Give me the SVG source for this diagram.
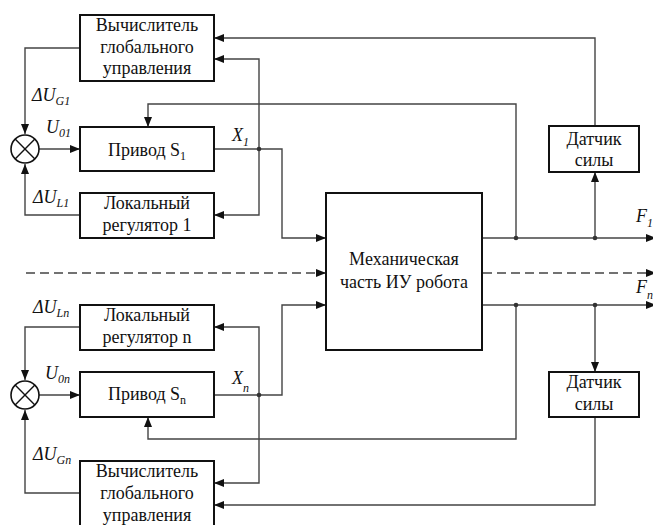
<svg xmlns="http://www.w3.org/2000/svg" width="653" height="525" viewBox="0 0 653 525">
<style>
.box{fill:#fff;stroke:#111;stroke-width:2}
.ln{fill:none;stroke:#444;stroke-width:1.4}
.da{fill:none;stroke:#444;stroke-width:1.4;stroke-dasharray:9,5}
text{font-family:'Liberation Serif','Times New Roman','DejaVu Serif',serif;fill:#111}
.t{font-size:18px;text-anchor:middle}
.lb{font-size:18px;font-style:italic}
.sb{font-size:12px}
.dot{fill:#333}
</style>
<defs>
<marker id="ar" markerWidth="10" markerHeight="8" refX="10" refY="4" orient="auto" markerUnits="userSpaceOnUse">
<path d="M0,0 L10,4 L0,8 z" fill="#111"/>
</marker>
</defs>
<g id="connectors">
<path class="ln" d="M80,48 H25 V134" marker-end="url(#ar)"/>
<path class="ln" d="M80,215 H25 V164" marker-end="url(#ar)"/>
<path class="ln" d="M39,149 H80" marker-end="url(#ar)"/>
<path class="ln" d="M214,149 H282 V238 H326" marker-end="url(#ar)"/>
<path class="ln" d="M259,149 V59 H214" marker-end="url(#ar)"/>
<path class="ln" d="M259,149 V215 H214" marker-end="url(#ar)"/>
<path class="ln" d="M516,238 V104 H148 V127" marker-end="url(#ar)"/>
<path class="ln" d="M595,126 V38 H214" marker-end="url(#ar)"/>
<path class="ln" d="M595,238 V172" marker-end="url(#ar)"/>
<path class="ln" d="M483,238 H656" marker-end="url(#ar)"/>
<path class="da" d="M26,273 H326" marker-end="url(#ar)"/>
<path class="da" d="M483,273 H656" marker-end="url(#ar)"/>
<path class="ln" d="M80,327 H25 V380" marker-end="url(#ar)"/>
<path class="ln" d="M80,493 H25 V410" marker-end="url(#ar)"/>
<path class="ln" d="M39,395 H80" marker-end="url(#ar)"/>
<path class="ln" d="M214,395 H282 V305 H326" marker-end="url(#ar)"/>
<path class="ln" d="M259,395 V327 H214" marker-end="url(#ar)"/>
<path class="ln" d="M259,395 V483 H214" marker-end="url(#ar)"/>
<path class="ln" d="M516,305 V439 H148 V417" marker-end="url(#ar)"/>
<path class="ln" d="M595,417 V505 H214" marker-end="url(#ar)"/>
<path class="ln" d="M595,305 V372" marker-end="url(#ar)"/>
<path class="ln" d="M483,305 H656" marker-end="url(#ar)"/>
<circle class="dot" cx="259" cy="149" r="2.3"/>
<circle class="dot" cx="516" cy="238" r="2.3"/>
<circle class="dot" cx="595" cy="238" r="2.3"/>
<circle class="dot" cx="259" cy="395" r="2.3"/>
<circle class="dot" cx="516" cy="305" r="2.3"/>
<circle class="dot" cx="595" cy="305" r="2.3"/>
</g>
<g id="sum1">
<circle cx="25" cy="149" r="14" fill="#fff" stroke="#111" stroke-width="1.6"/>
<path d="M15.1,139.1 L34.9,158.9 M34.9,139.1 L15.1,158.9" stroke="#111" stroke-width="1.4"/>
</g>
<g id="sumn">
<circle cx="25" cy="395" r="14" fill="#fff" stroke="#111" stroke-width="1.6"/>
<path d="M15.1,385.1 L34.9,404.9 M34.9,385.1 L15.1,404.9" stroke="#111" stroke-width="1.4"/>
</g>
<g id="calc1">
<rect class="box" x="80" y="15" width="134" height="66"/>
<text class="t" x="147" y="31">Вычислитель</text>
<text class="t" x="147" y="53">глобального</text>
<text class="t" x="147" y="74">управления</text>
</g>
<g id="drive1">
<rect class="box" x="80" y="127" width="134" height="44"/>
<text class="t" x="147" y="156">Привод S<tspan class="sb" dy="4">1</tspan></text>
</g>
<g id="loc1">
<rect class="box" x="80" y="193" width="134" height="45"/>
<text class="t" x="147" y="209">Локальный</text>
<text class="t" x="147" y="231">регулятор 1</text>
</g>
<g id="locn">
<rect class="box" x="80" y="305" width="134" height="45"/>
<text class="t" x="147" y="321">Локальный</text>
<text class="t" x="147" y="343">регулятор n</text>
</g>
<g id="driven">
<rect class="box" x="80" y="372" width="134" height="45"/>
<text class="t" x="147" y="400">Привод S<tspan class="sb" dy="4">n</tspan></text>
</g>
<g id="calcn">
<rect class="box" x="80" y="461" width="134" height="70"/>
<text class="t" x="147" y="477">Вычислитель</text>
<text class="t" x="147" y="499">глобального</text>
<text class="t" x="147" y="521">управления</text>
</g>
<g id="mech">
<rect class="box" x="326" y="193" width="156" height="157"/>
<text class="t" x="404" y="265">Механическая</text>
<text class="t" x="404" y="288">часть ИУ робота</text>
</g>
<g id="sens1">
<rect class="box" x="549" y="126" width="90" height="46"/>
<text class="t" x="594" y="145">Датчик</text>
<text class="t" x="594" y="166">силы</text>
</g>
<g id="sensn">
<rect class="box" x="549" y="372" width="90" height="45"/>
<text class="t" x="594" y="388">Датчик</text>
<text class="t" x="594" y="410">силы</text>
</g>
<g id="labels">
<text class="lb" x="32" y="101">ΔU<tspan class="sb" dy="4">G1</tspan></text>
<text class="lb" x="46" y="133">U<tspan class="sb" dy="4">01</tspan></text>
<text class="lb" x="232" y="141">X<tspan class="sb" dy="5">1</tspan></text>
<text class="lb" x="33" y="203">ΔU<tspan class="sb" dy="4">L1</tspan></text>
<text class="lb" x="33" y="313">ΔU<tspan class="sb" dy="4">Ln</tspan></text>
<text class="lb" x="45" y="379">U<tspan class="sb" dy="4">0n</tspan></text>
<text class="lb" x="232" y="384">X<tspan class="sb" dy="8">n</tspan></text>
<text class="lb" x="33" y="460">ΔU<tspan class="sb" dy="4">Gn</tspan></text>
<text class="lb" x="636" y="222">F<tspan class="sb" dy="5">1</tspan></text>
<text class="lb" x="636" y="293">F<tspan class="sb" dy="6">n</tspan></text>
</g>
</svg>
